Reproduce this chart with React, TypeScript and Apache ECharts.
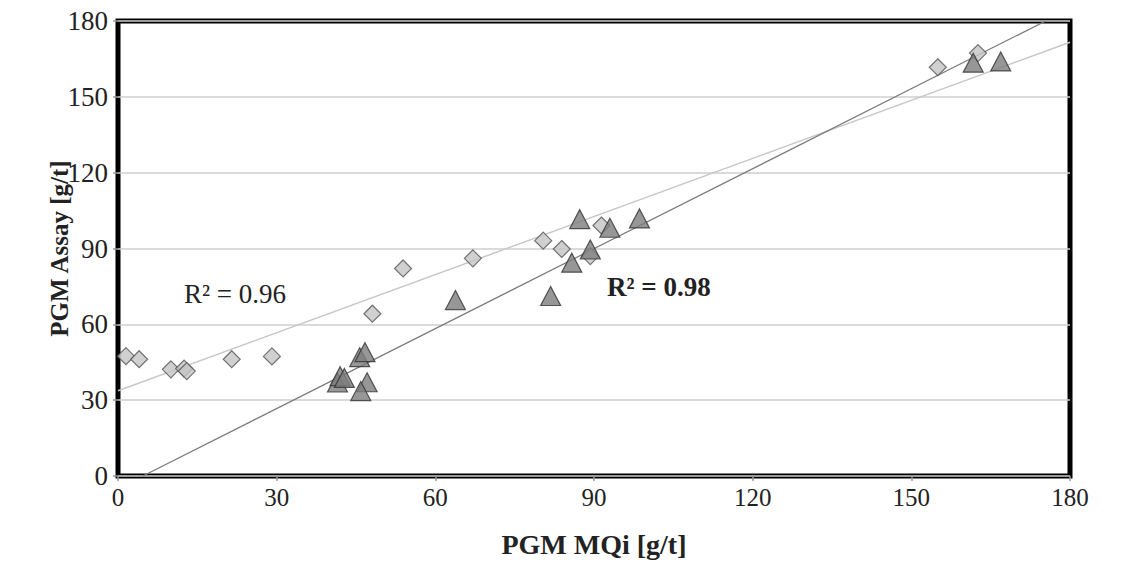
import React, { useEffect, useRef } from "react";
import * as echarts from "echarts";

// PGM MQi (x) vs PGM Assay (y)
const mqiDiamond = [1.5, 4.0, 10.0, 12.5, 13.0, 21.5, 29.1, 48.1, 53.9, 67.1, 80.4, 83.9, 89.3, 91.4, 155.0, 162.6];
const assayDiamond = [47.4, 46.2, 42.2, 42.5, 41.5, 46.2, 47.3, 64.2, 82.1, 86.1, 93.1, 89.8, 87.0, 99.1, 161.7, 167.3];

const mqiTriangle = [41.5, 42.0, 42.8, 45.7, 46.7, 47.1, 45.9, 63.8, 81.8, 85.8, 87.3, 89.3, 93.0, 98.6, 161.7, 166.9];
const assayTriangle = [37.0, 39.5, 38.8, 47.0, 49.0, 37.1, 33.6, 69.6, 71.2, 84.4, 101.6, 89.6, 98.2, 101.9, 163.5, 164.0];

// Trend line end points
const trendDiamond = [[0, 33.7], [180, 171.6]];
const trendTriangle = [[4.7, 0], [175.4, 180]];

const axisTicks = [0, 30, 60, 90, 120, 150, 180];
const r2Labels = ["R² = 0.96", "R² = 0.98"];
const xTitle = "PGM MQi [g/t]";
const yTitle = "PGM Assay [g/t]";

const FONT = "Liberation Serif, Times New Roman, serif";

export default function App() {
  const ref = useRef<HTMLDivElement>(null);
  useEffect(() => {
    if (!ref.current) return;
    const chart = echarts.init(ref.current, null, { renderer: "svg" });
    const zip = (xs: number[], ys: number[]) => xs.map((x, i) => [x, ys[i]]);
    const axisCommon = {
      type: "value" as const,
      min: axisTicks[0],
      max: axisTicks[axisTicks.length - 1],
      interval: axisTicks[1] - axisTicks[0],
      axisLine: { show: false },
      axisTick: { show: true, inside: false, length: 5, lineStyle: { color: "#999", width: 1.5 } },
    };
    chart.setOption({
      animation: false,
      backgroundColor: "#fff",
      grid: {
        left: 118,
        right: 61,
        top: 21,
        bottom: 93,
        show: true,
        borderColor: "#000",
        borderWidth: 5,
        backgroundColor: "transparent",
      },
      xAxis: {
        ...axisCommon,
        splitLine: { show: false },
        axisLabel: { color: "#222", fontFamily: FONT, fontSize: 25, margin: 9 },
        name: xTitle,
        nameLocation: "middle",
        nameGap: 54,
        nameTextStyle: { fontFamily: FONT, fontSize: 28, fontWeight: "bold", color: "#222" },
      },
      yAxis: {
        ...axisCommon,
        splitLine: { show: true, lineStyle: { color: "#cfcfcf", width: 1.5 } },
        axisLabel: { color: "#222", fontFamily: FONT, fontSize: 27, margin: 10 },
        name: yTitle,
        nameLocation: "middle",
        nameGap: 46,
        nameMoveOverlap: false,
        nameTextStyle: { fontFamily: FONT, fontSize: 25, fontWeight: "bold", color: "#222" },
      },
      series: [
        {
          type: "line",
          data: trendDiamond,
          symbol: "none",
          lineStyle: { color: "#c8c8c8", width: 1.5 },
          z: 2,
        },
        {
          type: "line",
          data: trendTriangle,
          symbol: "none",
          lineStyle: { color: "#7a7a7a", width: 1.2 },
          z: 2,
        },
        {
          type: "scatter",
          data: zip(mqiDiamond, assayDiamond),
          symbol: "diamond",
          symbolSize: [17, 17],
          itemStyle: { color: "#c4c4c4", borderColor: "#555", borderWidth: 1.2 },
          z: 3,
        },
        {
          type: "scatter",
          data: zip(mqiTriangle, assayTriangle),
          symbol: "triangle",
          symbolSize: [20, 19],
          itemStyle: { color: "#7d7d7d", borderColor: "#333", borderWidth: 1.2 },
          z: 4,
        },
      ],
      graphic: [
        {
          type: "text",
          left: 184,
          top: 280,
          style: { text: r2Labels[0], fontFamily: FONT, fontSize: 27, fill: "#222" },
        },
        {
          type: "text",
          left: 607,
          top: 273,
          style: { text: r2Labels[1], fontFamily: FONT, fontSize: 27, fontWeight: "bold", fill: "#222" },
        },
      ],
    });
    return () => chart.dispose();
  }, []);
  return (
    <div
      ref={ref}
      style={{ position: "fixed", left: 0, top: 0, width: 1131, height: 569, background: "#fff" }}
    />
  );
}
